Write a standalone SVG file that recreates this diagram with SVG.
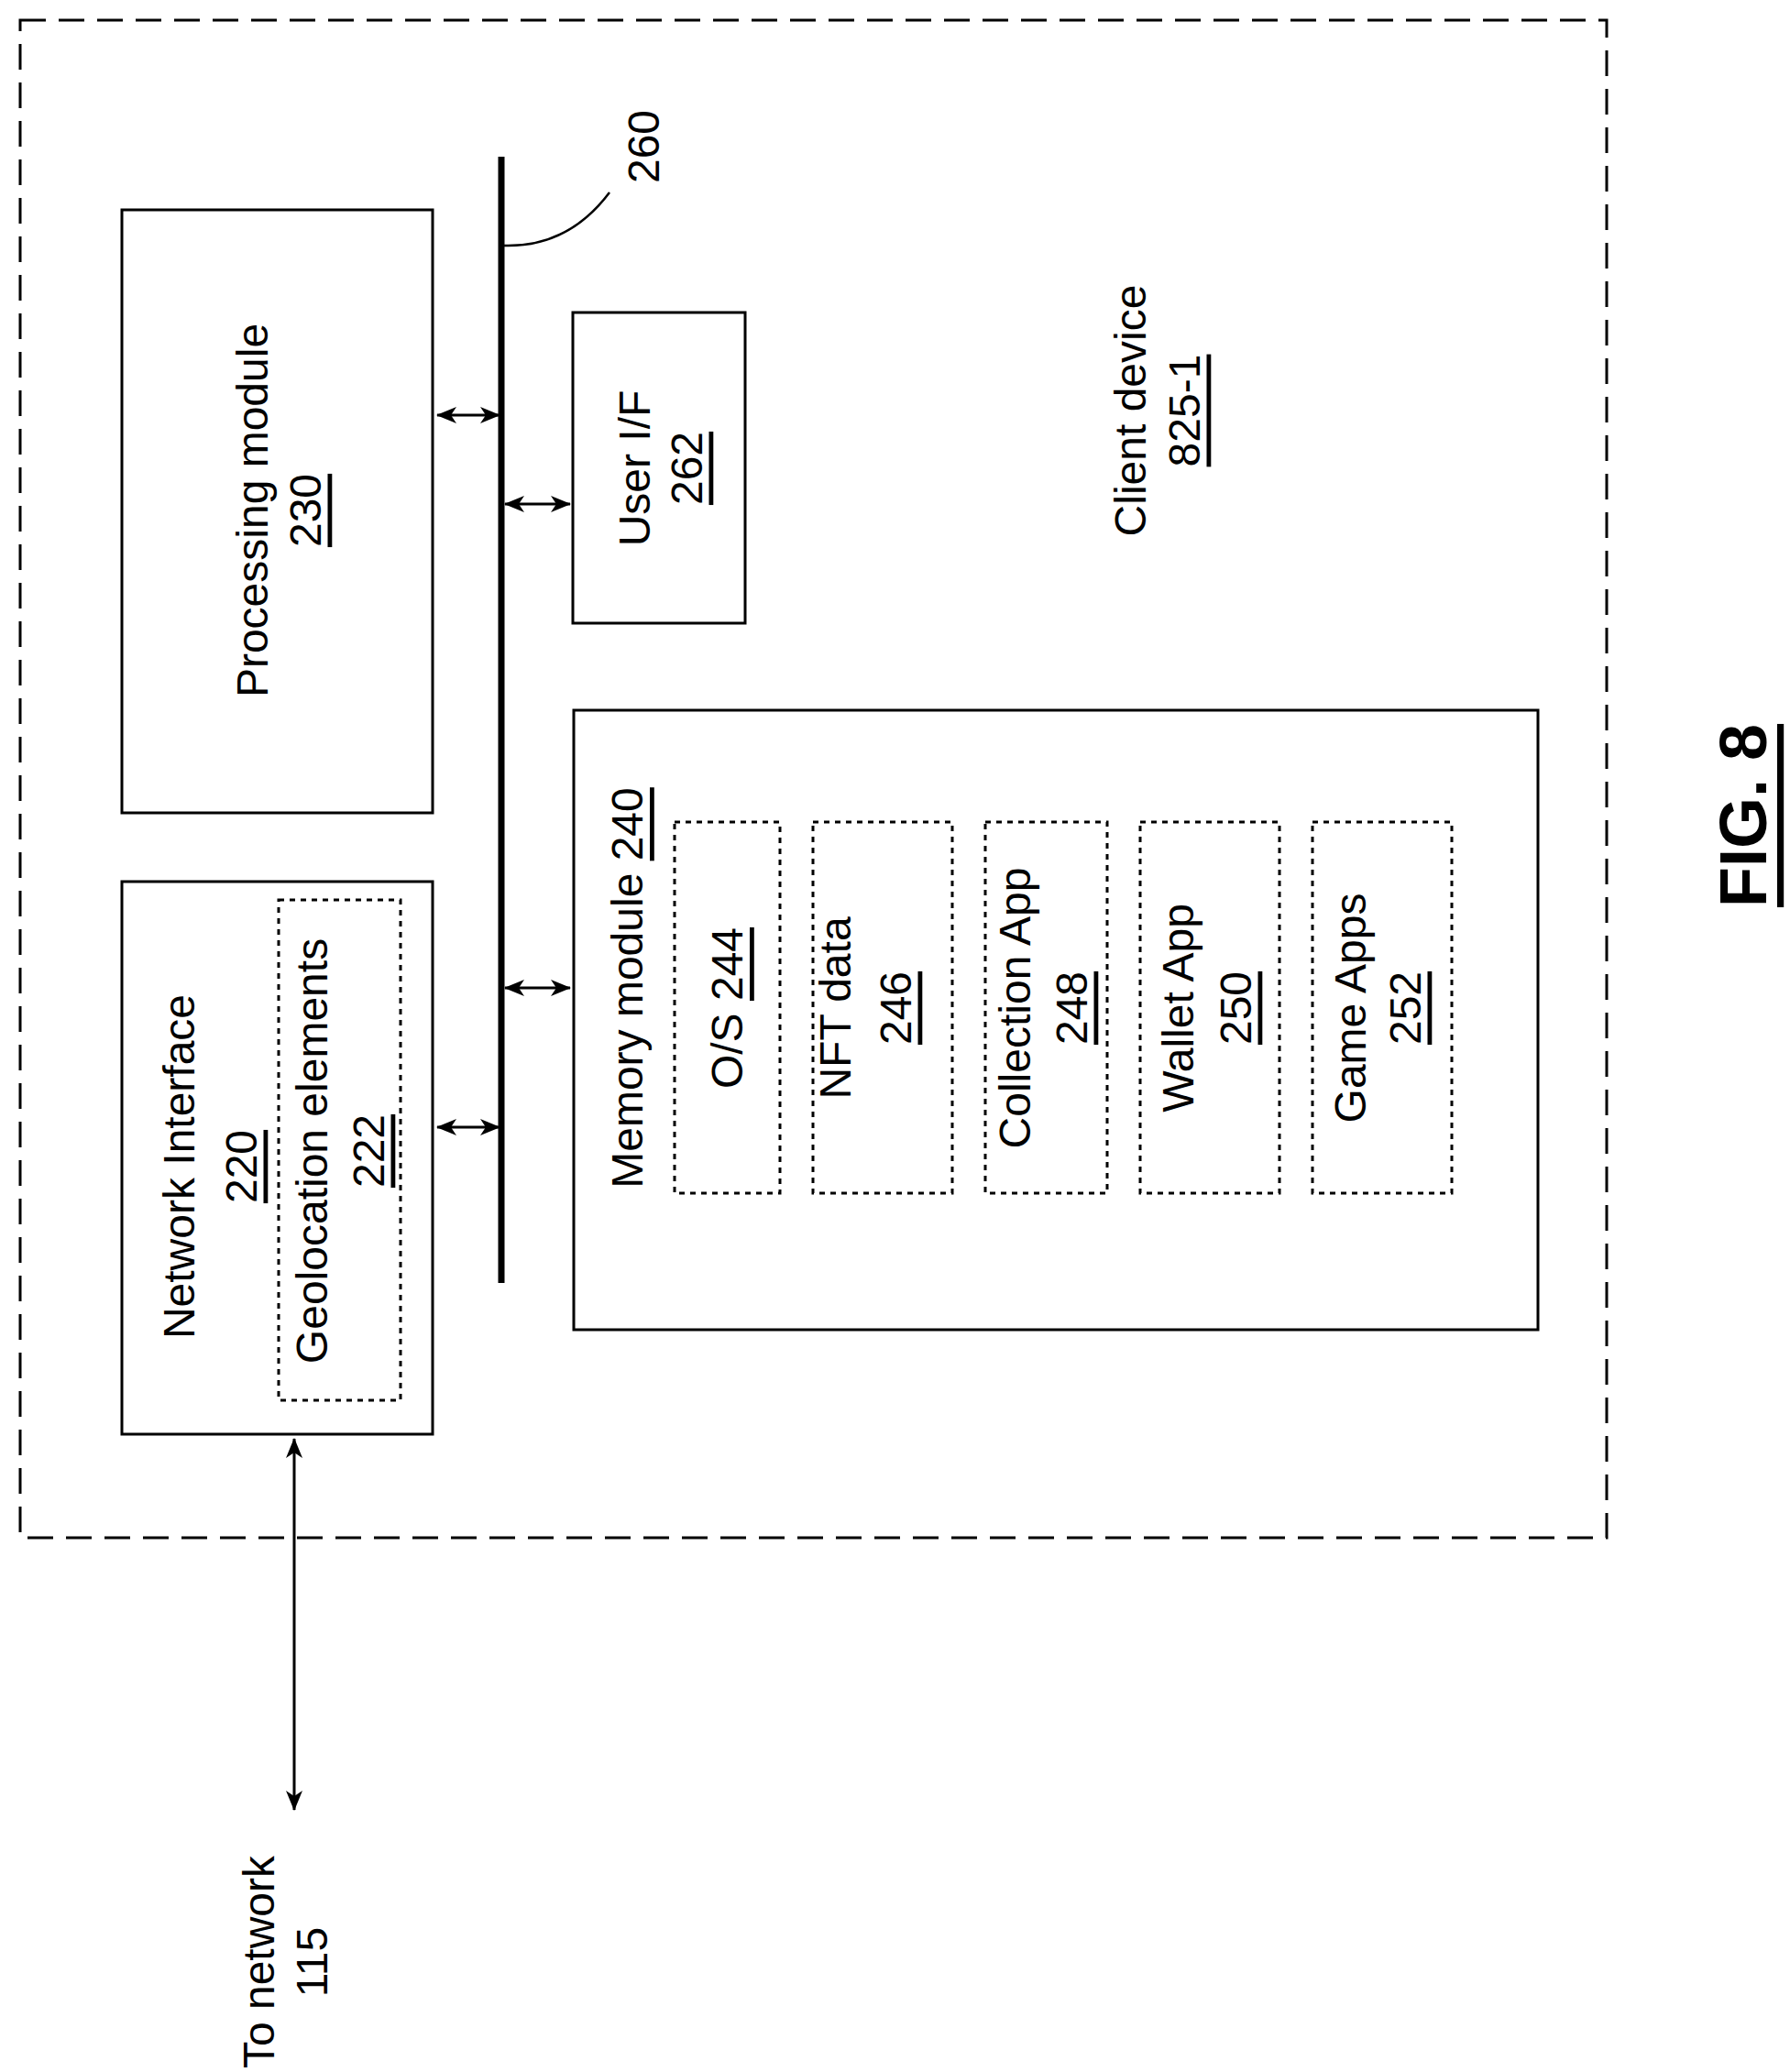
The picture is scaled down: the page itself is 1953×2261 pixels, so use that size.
<svg xmlns="http://www.w3.org/2000/svg" width="1953" height="2261" viewBox="0 0 1953 2261">
<style>
text{font-family:"Liberation Sans",Arial,sans-serif;font-size:48px;fill:#000;text-anchor:middle;dominant-baseline:central}
.u{text-decoration:underline}
.box{fill:none;stroke:#000;stroke-width:3}
.dbox{fill:none;stroke:#000;stroke-width:3;stroke-dasharray:6 6}
.conn{fill:none;stroke:#000;stroke-width:3;marker-start:url(#a);marker-end:url(#a)}
</style>
<defs><marker id="a" viewBox="0 0 22 18" refX="21" refY="9" markerWidth="22" markerHeight="18" orient="auto-start-reverse" markerUnits="userSpaceOnUse"><path d="M0,0 L22,9 L0,18 L6,9 Z"/></marker></defs>
<g id="client"><rect x="22" y="22" width="1731" height="1656" fill="none" stroke="#000" stroke-width="3" stroke-dasharray="28 14"/>
<text transform="translate(1233,448) rotate(-90)">Client device</text>
<text class="u" transform="translate(1292,448) rotate(-90)">825-1</text></g>
<g id="bus"><line x1="547" y1="171" x2="547" y2="1400" stroke="#000" stroke-width="7"/>
<path d="M550,268 Q620,270 665,210" fill="none" stroke="#000" stroke-width="2.5"/>
<text transform="translate(702,160) rotate(-90)">260</text></g>
<g id="proc"><rect class="box" x="133" y="229" width="339" height="658"/>
<text transform="translate(275,557) rotate(-90)">Processing module</text>
<text class="u" transform="translate(333,557) rotate(-90)">230</text></g>
<g id="net"><rect class="box" x="133" y="962" width="339" height="603"/>
<text transform="translate(195,1273) rotate(-90)">Network Interface</text>
<text class="u" transform="translate(263,1273) rotate(-90)">220</text>
<rect class="dbox" x="304" y="982" width="133" height="546"/>
<text transform="translate(340,1256) rotate(-90)">Geolocation elements</text>
<text class="u" transform="translate(402,1256) rotate(-90)">222</text></g>
<g id="userif"><rect class="box" x="625" y="341" width="188" height="339"/>
<text transform="translate(692,511) rotate(-90)">User I/F</text>
<text class="u" transform="translate(749,511) rotate(-90)">262</text></g>
<g id="mem"><rect class="box" x="626" y="775" width="1052" height="676"/>
<text transform="translate(684,1078) rotate(-90)">Memory module <tspan class="u">240</tspan></text>
<rect class="dbox" x="736" y="897" width="115" height="405"/>
<text transform="translate(793,1100) rotate(-90)">O/S <tspan class="u">244</tspan></text>
<rect class="dbox" x="887" y="897" width="152" height="405"/>
<text transform="translate(911,1100) rotate(-90)">NFT data</text>
<text class="u" transform="translate(977,1100) rotate(-90)">246</text>
<rect class="dbox" x="1075" y="897" width="133" height="405"/>
<text transform="translate(1107,1100) rotate(-90)">Collection App</text>
<text class="u" transform="translate(1169,1100) rotate(-90)">248</text>
<rect class="dbox" x="1244" y="897" width="152" height="405"/>
<text transform="translate(1285,1100) rotate(-90)">Wallet App</text>
<text class="u" transform="translate(1348,1100) rotate(-90)">250</text>
<rect class="dbox" x="1432" y="897" width="152" height="405"/>
<text transform="translate(1473,1100) rotate(-90)">Game Apps</text>
<text class="u" transform="translate(1533,1100) rotate(-90)">252</text></g>
<g id="connectors">
<line class="conn" x1="477" y1="453" x2="545" y2="453"/>
<line class="conn" x1="477" y1="1230" x2="545" y2="1230"/>
<line class="conn" x1="551" y1="550" x2="622" y2="550"/>
<line class="conn" x1="551" y1="1078" x2="622" y2="1078"/>
<line class="conn" x1="321" y1="1570" x2="321" y2="1975"/>
</g>
<g id="tonet"><text transform="translate(282,2141) rotate(-90)">To network</text>
<text transform="translate(340,2141) rotate(-90)">115</text></g>
<text class="u" transform="translate(1902,890) rotate(-90)" style="font-size:72px;font-weight:bold">FIG. 8</text>
</svg>
